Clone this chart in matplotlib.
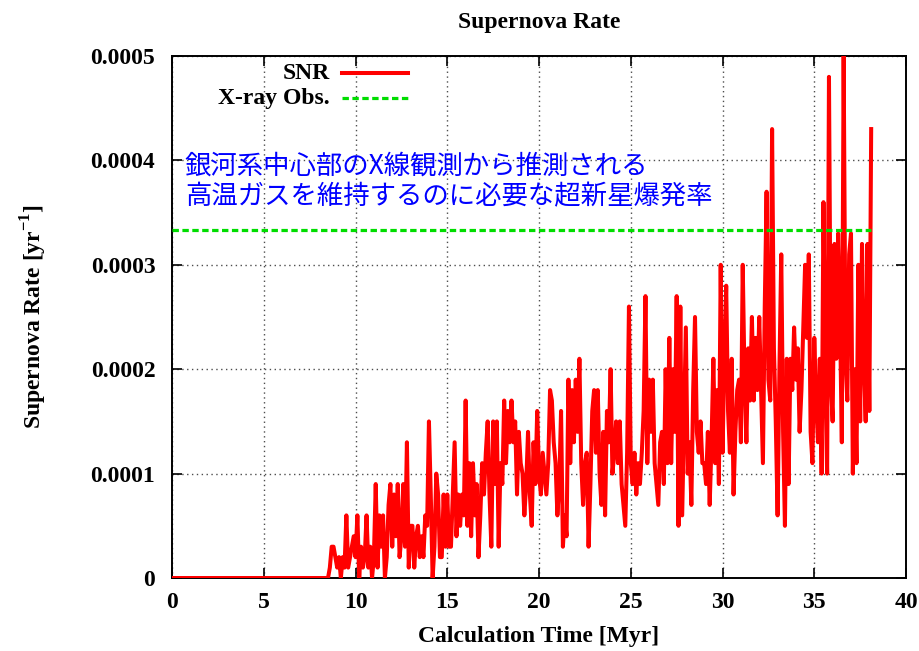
import numpy as np
import matplotlib
matplotlib.use("Agg")
import matplotlib.pyplot as plt
from matplotlib.ticker import MultipleLocator, FuncFormatter

plt.rcParams['font.family'] = ['Liberation Serif', 'DejaVu Serif']
plt.rcParams['font.weight'] = 'bold'
plt.rcParams['mathtext.fontset'] = 'custom'
plt.rcParams['mathtext.rm'] = 'Liberation Serif:bold'
plt.rcParams['mathtext.bf'] = 'Liberation Serif:bold'

# Supernova rate in units of 1e-5 /yr, sampled every 0.1 Myr from 8.4 to 38.1 Myr
snr_rate_1e5 = [
    0, 0, 1, 3, 3, 2,                      # 8.4 - 8.9
    1, 2, 0, 2, 1, 6, 1, 2, 3, 4,          # 9
    2, 6, 0, 3, 1, 2, 6, 1, 3, 0,          # 10
    2, 9, 1, 6, 3, 6, 0, 2, 7, 9,          # 11
    3, 8, 4, 9, 2, 4, 9, 3, 13, 1,         # 12
    5, 5, 1, 4, 5, 2, 4, 2, 6, 5,          # 13
    15, 8, 0, 3, 10, 8, 2, 2, 8, 3,        # 14
    8, 3, 3, 8, 13, 4, 8, 5, 8, 6,         # 15
    17, 5, 11, 4, 11, 6, 9, 2, 6, 11,      # 16
    8, 12, 15, 8, 3, 15, 9, 15, 3, 11,     # 17
    9, 17, 11, 16, 13, 17, 13, 15, 8, 14,  # 18
    11, 10, 6, 9, 14, 8, 5, 13, 9, 16,     # 19
    10, 8, 12, 10, 8, 11, 18, 17, 13, 11,  # 20
    6, 9, 16, 3, 6, 4, 19, 11, 18, 13,     # 21
    19, 14, 21, 11, 7, 11, 12, 3, 9, 16,   # 22
    18, 12, 18, 10, 7, 14, 6, 16, 13, 20,  # 23
    10, 12, 15, 11, 15, 9, 7, 5, 12, 26,   # 24
    11, 9, 12, 8, 11, 9, 12, 16, 27, 11,   # 25
    19, 14, 19, 11, 9, 7, 13, 14, 9, 20,   # 26
    11, 23, 11, 20, 14, 27, 5, 26, 6, 15,  # 27
    24, 10, 13, 7, 18, 25, 14, 12, 15, 11, # 28
    11, 9, 14, 7, 13, 21, 11, 18, 9, 30,   # 29
    12, 21, 28, 16, 12, 21, 8, 14, 18, 19, # 30
    13, 30, 19, 13, 22, 17, 25, 17, 23, 18, # 31
    25, 18, 11, 26, 37, 19, 17, 43, 22, 15, # 32
    6, 20, 31, 14, 5, 21, 9, 21, 18, 24,   # 33
    19, 22, 14, 18, 24, 30, 23, 31, 14, 11, # 34
    23, 17, 13, 21, 10, 36, 19, 10, 48, 19, # 35
    15, 32, 21, 33, 25, 13, 50, 21, 17, 31, # 36
    33, 10, 20, 11, 30, 15, 32, 21, 15, 32, # 37
    16, 43,                                 # 38.0 - 38.1
]
snr_time = np.round(np.arange(84, 84 + len(snr_rate_1e5)) / 10.0, 1)

# Rate needed to keep the X-ray emitting gas hot
xray_time = [0.0, 38.1]
xray_rate = [3.33e-4, 3.33e-4]

time = np.concatenate([[0.0], snr_time])
rate = np.concatenate([[0.0], np.array(snr_rate_1e5) * 1e-5])

note_lines = ["銀河系中心部のX線観測から推測される",
              "高温ガスを維持するのに必要な超新星爆発率"]
note_y = [3.95e-4, 3.65e-4]

FS = 17
snr_style = dict(color='#ff0000', lw=2.9)
xray_style = dict(color='#00dd00', lw=2.3, ls=(0, (2.0, 1.1)))

fig = plt.figure(figsize=(9.19, 6.51), dpi=100)
ax = fig.add_axes([0.1872, 0.1121, 0.7987, 0.8019])

ax.plot(time, rate, zorder=3, **snr_style)
ax.plot(xray_time, xray_rate, zorder=3, **xray_style)

ax.set_xlim(0, 40)
ax.set_ylim(0, 0.0005)
ax.xaxis.set_major_locator(MultipleLocator(5))
ax.yaxis.set_major_locator(MultipleLocator(0.0001))
ax.yaxis.set_major_formatter(FuncFormatter(lambda v, p: '0' if abs(v) < 1e-12 else f'{v:.4f}'))
ax.tick_params(direction='in', length=7, width=1.2, top=True, right=True,
               labelsize=FS)
ax.tick_params(axis='x', pad=10)
ax.tick_params(axis='y', pad=12)
for lab in ax.get_xticklabels() + ax.get_yticklabels():
    lab.set_fontweight('bold')
ax.grid(True, ls=(0, (1, 2.5)), color='0.3', lw=1.0)
for sp in ax.spines.values():
    sp.set_linewidth(1.4)

ax.set_title('Supernova Rate', fontsize=FS, fontweight='bold', pad=20)
ax.set_xlabel('Calculation Time [Myr]', fontsize=FS, fontweight='bold')
ax.set_ylabel(r'Supernova Rate [yr$^{-1}$]', fontsize=FS, fontweight='bold')
ax.xaxis.set_label_coords(0.5, -0.092)
ax.yaxis.set_label_coords(-0.168, 0.5)

for line, y in zip(note_lines, note_y):
    ax.text(0.7, y, line, color='#0000ff', fontsize=19,
            family=['Noto Sans CJK JP', 'DejaVu Sans'], fontweight='normal',
            va='center', ha='left')

# key in the upper left corner: right-aligned labels followed by line samples
key_entries = [('SNR', snr_style, 0.9674), ('X-ray Obs.', xray_style, 0.9195)]
for label, style, ky in key_entries:
    ax.text(0.2153, ky, label, transform=ax.transAxes, fontsize=FS,
            fontweight='bold', ha='right', va='center')
    ax.plot([0.2316, 0.3215], [ky, ky], transform=ax.transAxes, clip_on=False,
            **style)

fig.savefig('out.png', dpi=100)
